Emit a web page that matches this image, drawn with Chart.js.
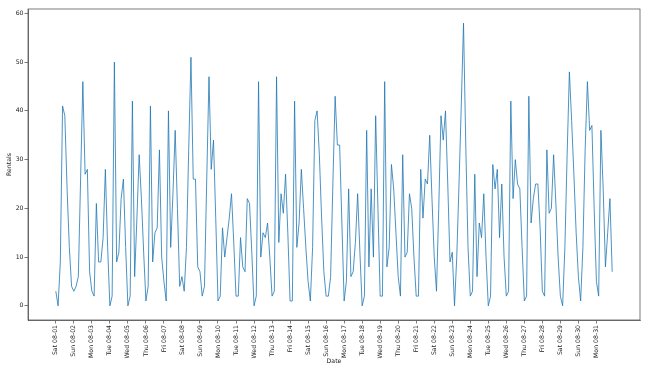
<!DOCTYPE html>
<html><head><meta charset="utf-8">
<script src="https://cdn.jsdelivr.net/npm/chart.js@4"></script>
<style>html,body{margin:0;padding:0;background:#fff;} canvas{display:block;}</style>
</head><body>
<canvas id="c" width="650" height="366"></canvas>
<script>
const dayLabels = ['Sat 08-01','Sun 08-02','Mon 08-03','Tue 08-04','Wed 08-05','Thu 08-06','Fri 08-07',
  'Sat 08-08','Sun 08-09','Mon 08-10','Tue 08-11','Wed 08-12','Thu 08-13','Fri 08-14',
  'Sat 08-15','Sun 08-16','Mon 08-17','Tue 08-18','Wed 08-19','Thu 08-20','Fri 08-21',
  'Sat 08-22','Sun 08-23','Mon 08-24','Tue 08-25','Wed 08-26','Thu 08-27','Fri 08-28',
  'Sat 08-29','Sun 08-30','Mon 08-31'];
// rentals per 3-hour interval, 8 per day
const rentals = [
  3, 0, 9, 41, 39, 24, 12, 4,
  3, 4, 6, 26, 46, 27, 28, 7,
  3, 2, 21, 9, 9, 14, 28, 12,
  0, 2, 50, 9, 11, 22, 26, 12,
  0, 2, 42, 6, 18, 31, 22, 11,
  1, 4, 41, 9, 15, 16, 32, 10,
  5, 1, 40, 12, 23, 36, 20, 4,
  6, 3, 12, 32, 51, 26, 26, 8,
  7, 2, 4, 26, 47, 28, 34, 18,
  1, 2, 16, 10, 14, 18, 23, 13,
  2, 2, 14, 8, 7, 22, 21, 11,
  0, 2, 46, 10, 15, 14, 17, 10,
  2, 3, 47, 13, 23, 19, 27, 15,
  1, 1, 42, 12, 17, 28, 20, 12,
  5, 1, 12, 38, 40, 31, 18, 7,
  2, 2, 6, 25, 43, 33, 33, 17,
  1, 5, 24, 6, 7, 13, 23, 11,
  0, 2, 36, 8, 24, 10, 39, 20,
  2, 2, 46, 8, 12, 29, 24, 15,
  6, 2, 31, 10, 11, 23, 20, 10,
  2, 2, 28, 18, 26, 25, 35, 22,
  10, 3, 20, 39, 34, 40, 25, 9,
  11, 0, 10, 25, 41, 58, 33, 12,
  2, 3, 27, 6, 17, 14, 23, 10,
  0, 2, 29, 24, 28, 14, 25, 10,
  2, 3, 42, 22, 30, 25, 24, 12,
  1, 2, 43, 17, 22, 25, 25, 16,
  3, 2, 32, 19, 20, 31, 21, 10,
  2, 0, 12, 31, 48, 38, 27, 15,
  6, 1, 12, 32, 46, 36, 37, 20,
  5, 2, 36, 24, 8, 15, 22, 7
];
const yTickValues = [0, 10, 20, 30, 40, 50, 60];
const stepsPerDay = 8;

const dayTicks = dayLabels.map((_, d) => d * stepsPerDay);
const points = rentals.map((v, i) => ({x: i, y: v}));

const frame = {
  id: 'frame',
  afterDraw(chart) {
    const {ctx, chartArea: a} = chart;
    ctx.save();
    ctx.strokeStyle = '#444';
    ctx.lineWidth = 0.7;
    ctx.strokeRect(a.left, a.top, a.right - a.left, a.bottom - a.top);
    ctx.restore();
  }
};

const font = {family: 'DejaVu Sans', size: 6.2};
const gridOpts = {display: true, drawOnChartArea: false, drawTicks: true, tickLength: 3.5, color: '#444', lineWidth: 0.7};

new Chart(document.getElementById('c'), {
  type: 'line',
  data: {datasets: [{data: points, borderColor: '#1f77b4', borderWidth: 0.8, pointRadius: 0, tension: 0, fill: false}]},
  options: {
    responsive: false, animation: false, devicePixelRatio: 1,
    layout: {padding: {top: 9, right: 10, left: 0, bottom: 0}},
    plugins: {legend: {display: false}, tooltip: {enabled: false}},
    scales: {
      x: {
        type: 'linear', min: -12.35, max: 259.35,
        afterBuildTicks: s => { s.ticks = dayTicks.map(v => ({value: v})); },
        afterFit: s => { s.height = 46; },
        ticks: {autoSkip: false, minRotation: 90, maxRotation: 90, padding: 1.5, color: '#222', font,
          callback: v => dayLabels[Math.round(v / stepsPerDay)]},
        grid: gridOpts,
        border: {display: true, color: '#444', width: 0.7},
        title: {display: true, text: 'Date', color: '#222', font, padding: {top: 0, bottom: 1.3}}
      },
      y: {
        type: 'linear', min: -2.9, max: 60.9,
        afterBuildTicks: s => { s.ticks = yTickValues.map(v => ({value: v})); },
        afterFit: s => { s.width = 28; },
        ticks: {padding: 1, color: '#222', font, callback: v => String(v)},
        grid: gridOpts,
        border: {display: true, color: '#444', width: 0.7},
        title: {display: true, text: 'Rentals', color: '#222', font, padding: {top: 5.3, bottom: 0}}
      }
    }
  },
  plugins: [frame]
});
</script>
</body></html>
